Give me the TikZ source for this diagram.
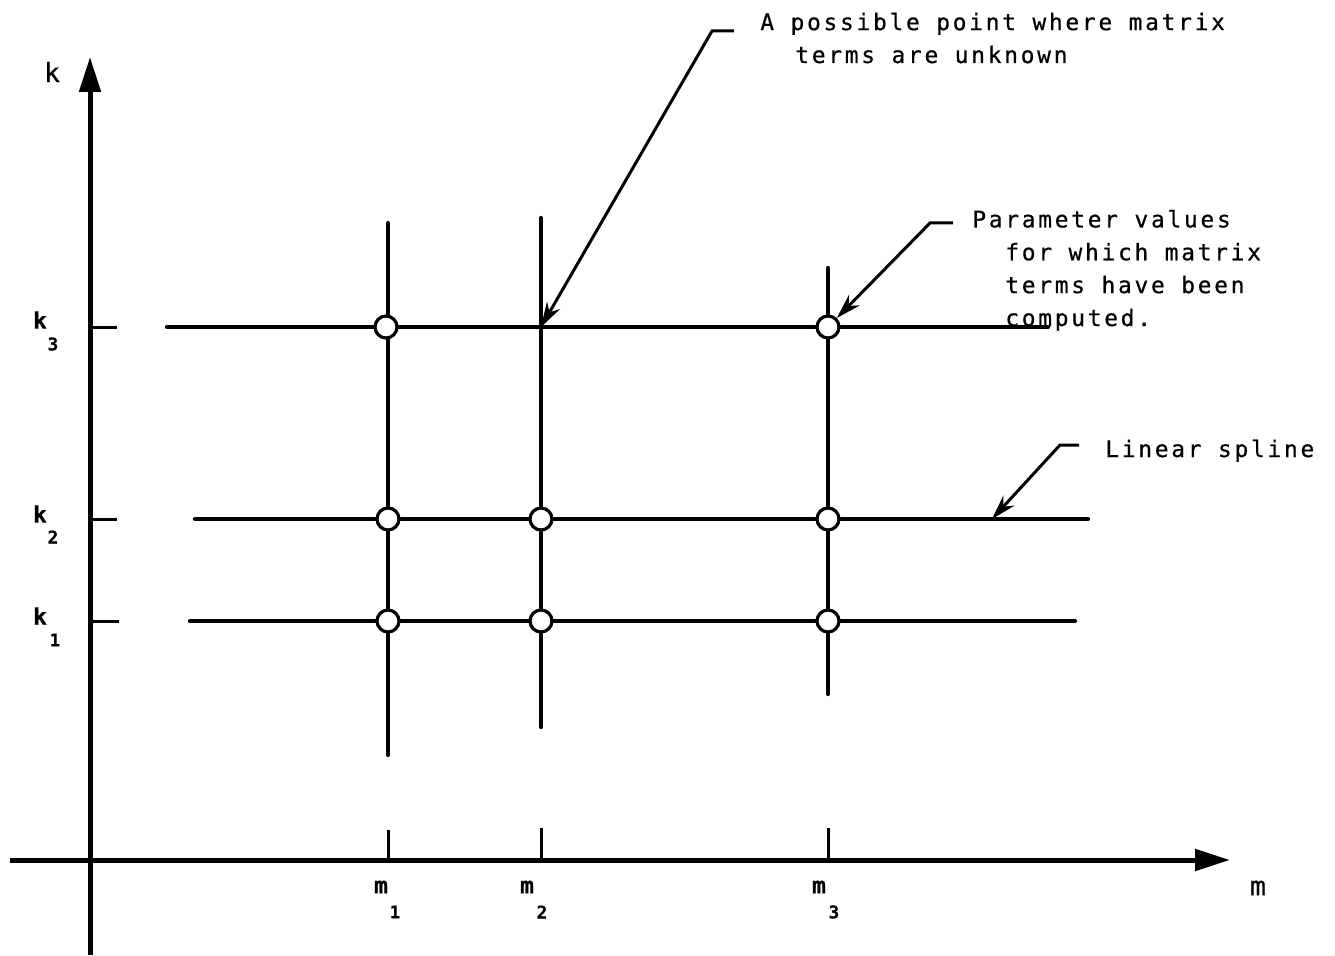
\documentclass[tikz,border=0pt]{standalone}
\usepackage{fontspec}
\newfontfamily\typefont[LetterSpace=12,FakeBold=0.6]{DejaVu Sans Mono}
\usetikzlibrary{arrows.meta,positioning,calc}

\begin{document}
\begin{tikzpicture}[
  x=0.02cm, y=-0.02cm,
  font=\typefont\fontsize{13}{18.7}\selectfont,
  axis/.style={line width=0.1cm},
  axisarr/.style={axis, -{Triangle[length=0.7cm, width=0.42cm]}},
  gridline/.style={line width=0.085cm, line cap=round},
  tickmark/.style={line width=0.06cm},
  knot/.style={circle, draw, fill=white, line width=1.8pt,
               minimum size=0.44cm, inner sep=0pt},
  callout/.style={-{Stealth[length=0.5cm, width=0.3cm]}, line width=0.06cm},
  note/.style={anchor=base west, align=left, inner sep=0pt},
  axlbl/.style={font=\typefont\fontsize{15}{18}\selectfont},
  lbl/.style={font=\typefont\bfseries\fontsize{13}{15}\selectfont},
  subidx/.style={font=\typefont\bfseries\fontsize{10}{12}\selectfont}
]
\useasboundingbox (0,0) rectangle (1335,956);

% axes
\coordinate (origin) at (90,860);
\coordinate (ytop) at (90,57);
\coordinate (ybot) at (90,955);
\coordinate (xleft) at (10,860);
\coordinate (xright) at (1230,860);
\draw[axisarr] (ybot) -- (ytop);
\draw[axisarr] (xleft) -- (xright);
\node[axlbl] (klbl) at (52,72) {k};
\node[axlbl] (mlbl) at (1258,888) {m};

% ticks on k axis
\coordinate (k3) at (90,327);
\coordinate (k2) at (90,519);
\coordinate (k1) at (90,621);
\draw[tickmark] (k3) -- ++(27,0);
\draw[tickmark] (k2) -- ++(27,0);
\draw[tickmark] (k1) -- ++(29,0);
\node[lbl] (k3lbl) at (40,320) {k};
\node[subidx] (k3sub) at (53,344) {3};
\node[lbl] (k2lbl) at (40,514) {k};
\node[subidx] (k2sub) at (53,537) {2};
\node[lbl] (k1lbl) at (40,616) {k};
\node[subidx] (k1sub) at (55,640) {1};

% ticks on m axis
\coordinate (m1) at (388,860);
\coordinate (m2) at (541,860);
\coordinate (m3) at (828,860);
\draw[tickmark] (m1) -- ++(0,-30);
\draw[tickmark] (m2) -- ++(0,-32);
\draw[tickmark] (m3) -- ++(0,-32);
\node[lbl] (m1lbl) at (381,887) {m};
\node[subidx] (m1sub) at (395,912) {1};
\node[lbl] (m2lbl) at (527,887) {m};
\node[subidx] (m2sub) at (542,912) {2};
\node[lbl] (m3lbl) at (819,887) {m};
\node[subidx] (m3sub) at (834,912) {3};

% spline lines
\draw[gridline] (167,327) -- (1048,327);
\draw[gridline] (195,519) -- (1088,519);
\draw[gridline] (190,621) -- (1075,621);
\draw[gridline] (388,223) -- (388,755);
\draw[gridline] (541,218) -- (541,727);
\draw[gridline] (828,268) -- (828,694);

% computed points
\node[knot] (k3m1) at (386,327) {};
\node[knot] (k3m3) at (828,327) {};
\node[knot] (k2m1) at (388,519) {};
\node[knot] (k2m2) at (541,519) {};
\node[knot] (k2m3) at (828,519) {};
\node[knot] (k1m1) at (388,621) {};
\node[knot] (k1m2) at (541,621) {};
\node[knot] (k1m3) at (828,621) {};
\coordinate (k3m2) at (541,327);

% notes (base = last line)
\node[note] (unknown) at (760,63) {A possible point where matrix\\\hspace*{0.7cm}terms are unknown};
\node[note] (computed) at (972,326) {Parameter values\\\hspace*{0.66cm}for which matrix\\\hspace*{0.66cm}terms have been\\\hspace*{0.66cm}computed.};
\node[note] (spline) at (1105,457) {Linear spline};

\coordinate (c1a) at (734,31);
\coordinate (c1b) at (712,31);
\coordinate (c2a) at (953,223);
\coordinate (c2b) at (930,223);
\coordinate (c3a) at (1079,445);
\coordinate (c3b) at (1060,445);
\coordinate (splinept) at (992,519);

\draw[callout] (c1a) -- (c1b) -- (k3m2);
\draw[callout] (c2a) -- (c2b) -- (k3m3);
\draw[callout] (c3a) -- (c3b) -- (splinept);
\end{tikzpicture}
\end{document}
